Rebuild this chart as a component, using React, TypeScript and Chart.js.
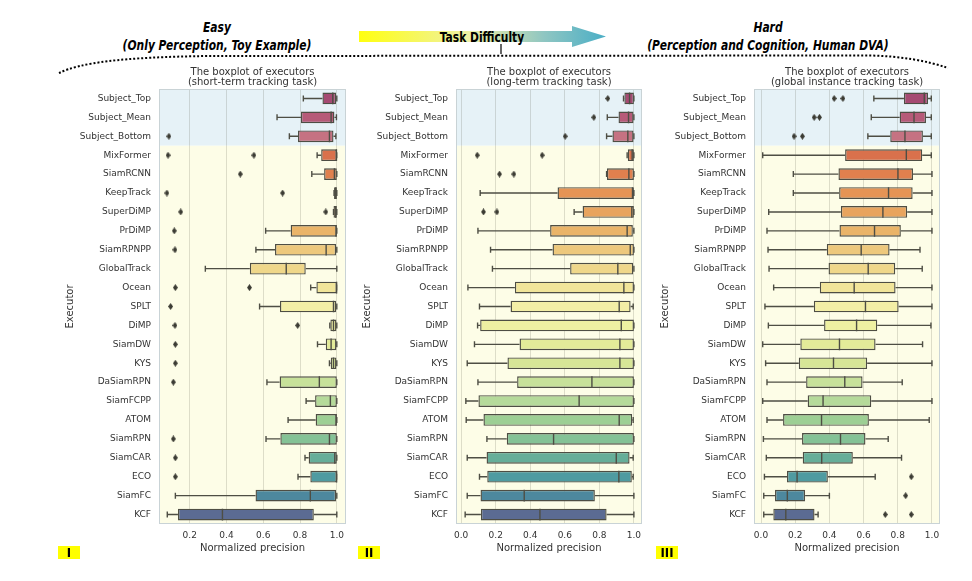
import React, { useEffect, useRef } from "react";
import { Chart, registerables } from "chart.js";
Chart.register(...registerables);

const executors = [
  "Subject_Top", "Subject_Mean", "Subject_Bottom", "MixFormer", "SiamRCNN", "KeepTrack",
  "SuperDiMP", "PrDiMP", "SiamRPNPP", "GlobalTrack", "Ocean", "SPLT", "DiMP", "SiamDW",
  "KYS", "DaSiamRPN", "SiamFCPP", "ATOM", "SiamRPN", "SiamCAR", "ECO", "SiamFC", "KCF",
];

const boxColors = [
  "#a54a72", "#b65a78", "#c57282", "#d9714c", "#e0804e", "#e59455", "#e8a45e", "#eab468",
  "#edc87c", "#efd78a", "#f1e59a", "#f3eea6", "#eef0a2", "#e3eb99", "#d7e697", "#c7e19a",
  "#b5da9a", "#9dcf94", "#84c296", "#66ae99", "#4f9ba1", "#4d889e", "#5b6b92",
];

// Short-term tracking task
const shortLo = [0.818, 0.675, 0.742, 0.893, 0.864, 0.985, 0.982, 0.613, 0.56, 0.285, 0.858, 0.58, 0.962, 0.895, 0.96, 0.62, 0.833, 0.735, 0.615, 0.827, 0.789, 0.122, 0.078];
const shortQ1 = [0.922, 0.805, 0.789, 0.915, 0.931, 0.985, 0.982, 0.749, 0.664, 0.527, 0.889, 0.691, 0.965, 0.94, 0.967, 0.689, 0.882, 0.885, 0.693, 0.847, 0.856, 0.558, 0.136];
const shortMed = [0.978, 0.969, 0.96, 0.998, 0.987, 0.995, 0.994, 0.996, 0.942, 0.725, 0.999, 0.982, 0.982, 0.969, 0.982, 0.905, 0.965, 0.996, 0.96, 0.989, 0.999, 0.856, 0.378];
const shortQ3 = [0.996, 0.987, 0.982, 1.0, 1.0, 1.0, 1.0, 1.0, 0.996, 0.831, 1.0, 0.996, 0.998, 0.998, 0.998, 1.0, 1.0, 1.0, 1.0, 1.0, 1.0, 0.996, 0.875];
const shortHi = [1.0, 0.998, 0.995, 1.0, 1.0, 1.0, 1.0, 1.0, 1.0, 1.0, 1.0, 1.0, 1.0, 1.0, 1.0, 1.0, 1.0, 1.0, 1.0, 1.0, 1.0, 1.0, 1.0];
const shortOutliers = [
  [2, 0.087], [3, 0.082], [3, 0.549], [4, 0.475], [5, 0.076], [5, 0.705], [6, 0.151], [6, 0.94],
  [7, 0.116], [8, 0.12], [10, 0.122], [10, 0.525], [11, 0.096], [12, 0.12], [12, 0.787],
  [13, 0.122], [14, 0.122], [15, 0.111], [18, 0.111], [19, 0.122], [20, 0.122],
];

// Long-term tracking task
const longLo = [0.94, 0.846, 0.842, 0.961, 0.842, 0.11, 0.654, 0.097, 0.17, 0.181, 0.039, 0.106, 0.095, 0.077, 0.035, 0.097, 0.027, 0.029, 0.149, 0.035, 0.106, 0.035, 0.023];
const longQ1 = [0.945, 0.911, 0.876, 0.965, 0.844, 0.558, 0.703, 0.515, 0.529, 0.631, 0.311, 0.286, 0.11, 0.338, 0.268, 0.324, 0.1, 0.129, 0.264, 0.147, 0.151, 0.112, 0.114];
const longMed = [0.975, 0.969, 0.965, 0.99, 0.971, 0.992, 0.988, 0.961, 0.979, 0.907, 0.942, 0.915, 0.927, 0.919, 0.919, 0.757, 0.683, 0.915, 0.535, 0.898, 0.913, 0.365, 0.456];
const longQ3 = [1.0, 0.998, 0.998, 1.0, 1.0, 1.0, 1.0, 0.994, 1.0, 0.996, 1.0, 0.981, 1.0, 1.0, 1.0, 1.0, 1.0, 0.99, 1.0, 0.975, 0.988, 0.774, 0.842];
const longHi = [1.0, 1.0, 1.0, 1.0, 1.0, 1.0, 1.0, 1.0, 1.0, 1.0, 1.0, 0.996, 1.0, 1.0, 1.0, 1.0, 1.0, 0.996, 1.0, 0.996, 0.996, 1.0, 1.0];
const longOutliers = [
  [0, 0.849], [1, 0.768], [2, 0.602], [3, 0.093], [3, 0.469], [4, 0.222], [4, 0.305],
  [6, 0.129], [6, 0.207],
];

// Global instance tracking task
const globalLo = [0.66, 0.645, 0.625, 0.01, 0.189, 0.189, 0.045, 0.035, 0.041, 0.047, 0.074, 0.023, 0.043, 0.01, 0.027, 0.035, 0.01, 0.035, 0.014, 0.031, 0.02, 0.016, 0.016];
const globalQ1 = [0.836, 0.811, 0.756, 0.492, 0.453, 0.457, 0.467, 0.459, 0.385, 0.395, 0.344, 0.309, 0.369, 0.23, 0.221, 0.264, 0.273, 0.129, 0.24, 0.244, 0.152, 0.082, 0.072];
const globalMed = [0.955, 0.895, 0.842, 0.85, 0.801, 0.746, 0.713, 0.664, 0.586, 0.627, 0.545, 0.611, 0.559, 0.459, 0.424, 0.49, 0.363, 0.354, 0.465, 0.355, 0.211, 0.154, 0.145];
const globalQ3 = [0.977, 0.965, 0.947, 0.943, 0.889, 0.887, 0.855, 0.818, 0.752, 0.785, 0.787, 0.805, 0.68, 0.67, 0.621, 0.594, 0.645, 0.631, 0.611, 0.537, 0.391, 0.258, 0.313];
const globalHi = [0.996, 0.996, 0.996, 0.996, 1.0, 1.0, 1.0, 1.0, 0.93, 0.943, 1.0, 1.0, 0.994, 0.945, 1.0, 0.826, 1.0, 0.984, 0.744, 0.822, 0.668, 0.4, 0.334];
const globalOutliers = [
  [0, 0.428], [0, 0.479], [1, 0.311], [1, 0.342], [2, 0.193], [2, 0.242],
  [20, 0.879], [21, 0.846], [22, 0.727], [22, 0.879],
];

const shortTicks = [0.2, 0.4, 0.6, 0.8, 1.0];
const fullTicks = [0.0, 0.2, 0.4, 0.6, 0.8, 1.0];

const LINE = "#4e4e44";
const TEXT = "#333333";
const SANS = "'DejaVu Sans', sans-serif";
const NARROW = "'Liberation Sans Narrow', 'DejaVu Sans Condensed', 'Liberation Sans', sans-serif";

function diamond() {
  const c = document.createElement("canvas");
  c.width = 5;
  c.height = 7;
  const g = c.getContext("2d")!;
  g.fillStyle = "#3c3c34";
  g.beginPath();
  g.moveTo(2.5, 0);
  g.lineTo(5, 3.5);
  g.lineTo(2.5, 7);
  g.lineTo(0, 3.5);
  g.closePath();
  g.fill();
  return c;
}

type PanelProps = {
  left: number;
  subtitle: string;
  lo: number[];
  q1: number[];
  med: number[];
  q3: number[];
  hi: number[];
  outliers: number[][];
  xMin: number;
  xMax: number;
  ticks: number[];
  padRight: number;
};

function Panel(p: PanelProps) {
  const ref = useRef<HTMLCanvasElement | null>(null);
  useEffect(() => {
    if (!ref.current) return;
    const extras = {
      id: "boxExtras",
      beforeDraw(chart: any) {
        const { ctx, chartArea: a, scales } = chart;
        const y = scales.y;
        const split = (y.getPixelForValue(2) + y.getPixelForValue(3)) / 2;
        ctx.save();
        ctx.fillStyle = "#e6f2f7";
        ctx.fillRect(a.left, a.top, a.right - a.left, split - a.top);
        ctx.fillStyle = "#fdfde7";
        ctx.fillRect(a.left, split, a.right - a.left, a.bottom - split);
        ctx.restore();
      },
      afterDatasetsDraw(chart: any) {
        const { ctx, scales } = chart;
        const x = scales.x;
        const y = scales.y;
        ctx.save();
        ctx.strokeStyle = LINE;
        ctx.lineWidth = 1.4;
        const cap = 3;
        const half = (y.getPixelForValue(1) - y.getPixelForValue(0)) * 0.31;
        executors.forEach((_, i) => {
          const cy = y.getPixelForValue(i);
          const pLo = x.getPixelForValue(p.lo[i]);
          const pQ1 = x.getPixelForValue(p.q1[i]);
          const pQ3 = x.getPixelForValue(p.q3[i]);
          const pHi = x.getPixelForValue(p.hi[i]);
          const pMed = x.getPixelForValue(p.med[i]);
          ctx.beginPath();
          ctx.moveTo(pLo, cy);
          ctx.lineTo(pQ1, cy);
          ctx.moveTo(pQ3, cy);
          ctx.lineTo(pHi, cy);
          ctx.moveTo(pLo, cy - cap);
          ctx.lineTo(pLo, cy + cap);
          ctx.moveTo(pHi, cy - cap);
          ctx.lineTo(pHi, cy + cap);
          ctx.moveTo(pMed, cy - half);
          ctx.lineTo(pMed, cy + half);
          ctx.stroke();
        });
        ctx.restore();
      },
      afterDraw(chart: any) {
        const { ctx, chartArea: a } = chart;
        ctx.save();
        ctx.strokeStyle = "#c9d3d6";
        ctx.lineWidth = 1;
        ctx.strokeRect(a.left + 0.5, a.top + 0.5, a.right - a.left - 1, a.bottom - a.top - 1);
        ctx.fillStyle = TEXT;
        ctx.font = `10px ${SANS}`;
        ctx.textAlign = "center";
        ctx.textBaseline = "middle";
        const cx = (a.left + a.right) / 2;
        ctx.fillText("The boxplot of executors", cx, a.top - 17);
        ctx.fillText(p.subtitle, cx, a.top - 7);
        ctx.restore();
      },
    };
    const chart = new Chart(ref.current, {
      type: "bar",
      data: {
        labels: executors,
        datasets: [
          {
            type: "bar",
            data: executors.map((_, i) => [p.q1[i], p.q3[i]]) as any,
            backgroundColor: boxColors,
            borderColor: LINE,
            borderWidth: 1.4,
            borderSkipped: false,
            barPercentage: 0.62,
            categoryPercentage: 1,
            xAxisID: "x",
            yAxisID: "y",
          } as any,
          {
            type: "scatter",
            data: p.outliers.map(([i, v]) => ({ x: v, y: executors[i] })),
            pointStyle: diamond(),
            pointRadius: 3,
            xAxisID: "x",
            yAxisID: "y",
          } as any,
        ],
      },
      options: {
        indexAxis: "y",
        animation: false,
        responsive: false,
        events: [],
        layout: { padding: { top: 29, right: p.padRight, left: 0, bottom: 0 } },
        plugins: { legend: { display: false }, tooltip: { enabled: false }, title: { display: false } },
        scales: {
          x: {
            type: "linear",
            position: "bottom",
            min: p.xMin,
            max: p.xMax,
            offset: false,
            beginAtZero: false,
            afterBuildTicks: (s: any) => {
              s.ticks = p.ticks.map((v) => ({ value: v }));
            },
            afterFit: (s: any) => {
              s.height = 36;
            },
            grid: { color: "rgba(80,80,60,0.18)", lineWidth: 1, drawTicks: false, offset: false },
            border: { display: false },
            ticks: {
              padding: 6,
              color: TEXT,
              font: { family: SANS, size: 9 },
              callback: (v: any) => Number(v).toFixed(1),
            },
            title: {
              display: true,
              text: "Normalized precision",
              color: TEXT,
              font: { family: SANS, size: 10 },
              padding: { top: 0, bottom: 6 },
            },
          },
          y: {
            type: "category",
            labels: executors,
            offset: true,
            afterFit: (s: any) => {
              s.width = 104;
            },
            grid: { display: false, drawTicks: false },
            border: { display: false },
            ticks: { padding: 8, color: TEXT, font: { family: SANS, size: 9 }, autoSkip: false },
            title: {
              display: true,
              text: "Executor",
              color: TEXT,
              font: { family: SANS, size: 10 },
              padding: { top: 9, bottom: 0 },
            },
          },
        },
      } as any,
      plugins: [extras],
    });
    return () => chart.destroy();
  }, []);
  return (
    <canvas
      ref={ref}
      width={300}
      height={500}
      style={{ position: "absolute", left: p.left, top: 60, width: 300, height: 500 }}
    />
  );
}

function Roman({ x, text, w }: { x: number; text: string; w: number }) {
  return (
    <div
      style={{
        position: "absolute",
        left: x,
        top: 546,
        width: w,
        height: 13,
        background: "#ffff00",
        color: "#000",
        fontFamily: NARROW,
        fontWeight: "bold",
        fontSize: 13,
        lineHeight: "13px",
        textAlign: "center",
      }}
    >
      {text}
    </div>
  );
}

function Centered({ x, y, text, italic }: { x: number; y: number; text: string; italic: boolean }) {
  return (
    <div
      style={{
        position: "absolute",
        left: x,
        top: y,
        transform: "translate(-50%, -50%) scaleX(0.85)",
        whiteSpace: "nowrap",
        fontFamily: NARROW,
        fontWeight: "bold",
        fontStyle: italic ? "italic" : "normal",
        fontSize: 14,
        color: "#000",
      }}
    >
      {text}
    </div>
  );
}

export default function App() {
  return (
    <div
      style={{
        position: "absolute",
        left: 0,
        top: 0,
        width: 972,
        height: 581,
        background: "#ffffff",
        overflow: "hidden",
      }}
    >
      <svg width={972} height={581} style={{ position: "absolute", left: 0, top: 0 }}>
        <defs>
          <linearGradient id="arrowGrad" x1="359" y1="0" x2="606" y2="0" gradientUnits="userSpaceOnUse">
            <stop offset="0" stopColor="#ffff10" />
            <stop offset="0.45" stopColor="#eef0a8" />
            <stop offset="0.75" stopColor="#8fc6c2" />
            <stop offset="1" stopColor="#4aaec6" />
          </linearGradient>
        </defs>
        <path
          d="M 359 31 L 572 31 L 572 26 L 606 36.5 L 572 47 L 572 42 L 359 42 Z"
          fill="url(#arrowGrad)"
        />
        <path
          d="M 59 73 C 80 63, 120 57, 210 56 L 870 55.5 C 900 56, 928 61, 948 68"
          fill="none"
          stroke="#000"
          strokeWidth={2}
          strokeDasharray="2 2"
        />
        <line x1={501} y1={44} x2={501} y2={54} stroke="#000" strokeWidth={1.2} />
      </svg>
      <Centered x={217} y={27} text="Easy" italic={true} />
      <Centered x={217} y={45} text="(Only Perception, Toy Example)" italic={true} />
      <Centered x={482} y={37} text="Task Difficulty" italic={false} />
      <Centered x={768} y={27} text="Hard" italic={true} />
      <Centered x={768} y={45} text="(Perception and Cognition, Human DVA)" italic={true} />
      <Panel left={55} subtitle="(short-term tracking task)" lo={shortLo} q1={shortQ1} med={shortMed} q3={shortQ3} hi={shortHi} outliers={shortOutliers} xMin={0.033} xMax={1.05} ticks={shortTicks} padRight={9} />
      <Panel left={352} subtitle="(long-term tracking task)" lo={longLo} q1={longQ1} med={longMed} q3={longQ3} hi={longHi} outliers={longOutliers} xMin={-0.03} xMax={1.047} ticks={fullTicks} padRight={10} />
      <Panel left={650} subtitle="(global instance tracking task)" lo={globalLo} q1={globalQ1} med={globalMed} q3={globalQ3} hi={globalHi} outliers={globalOutliers} xMin={-0.041} xMax={1.047} ticks={fullTicks} padRight={10} />
      <Roman x={58} text="I" w={22} />
      <Roman x={358} text="II" w={22} />
      <Roman x={656} text="III" w={22} />
    </div>
  );
}
